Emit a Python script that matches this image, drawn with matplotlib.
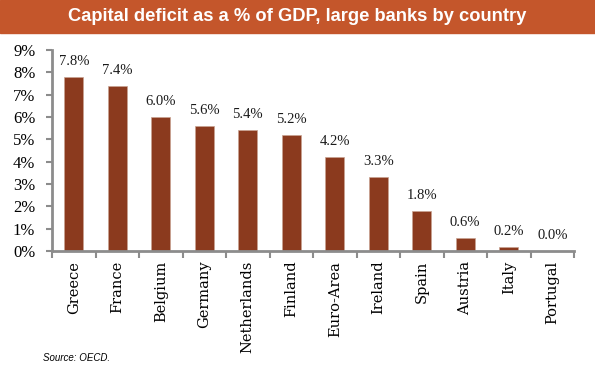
import numpy as np
import matplotlib as mpl
mpl.use('Agg')
import matplotlib.pyplot as plt
from matplotlib.ticker import FuncFormatter

countries = ['Greece', 'France', 'Belgium', 'Germany', 'Netherlands', 'Finland',
             'Euro-Area', 'Ireland', 'Spain', 'Austria', 'Italy', 'Portugal']
deficit = [7.8, 7.4, 6.0, 5.6, 5.4, 5.2, 4.2, 3.3, 1.8, 0.6, 0.2, 0.0]

bar_color = '#8B3A1E'
axis_gray = '#8C8C8C'
serif = ['Liberation Serif', 'DejaVu Serif']

fig = plt.figure(figsize=(5.95, 3.69), dpi=100)

# title banner
fig.patches.append(plt.Rectangle((0, 1 - 33 / 369), 1, 33 / 369, transform=fig.transFigure,
                                 color='#C4562B', zorder=0))
fig.text(0.5, 1 - 16.5 / 369, 'Capital deficit as a % of GDP, large banks by country',
         ha='center', va='center', color='white', fontsize=13.2, fontweight='bold',
         family=['Liberation Sans', 'DejaVu Sans'])

ax = fig.add_axes([52 / 595, 1 - 251 / 369, 522 / 595, 201 / 369])
x = np.arange(len(countries))
ax.bar(x, deficit, width=0.44, color=bar_color, edgecolor='#C9A391', linewidth=0.5)
for xi, v in zip(x, deficit):
    ax.text(xi, v + 0.4, f'{v:.1f}%', ha='center', va='bottom', fontsize=10.5,
            family=serif, color='#1a1a1a')

ax.set_xlim(-0.5, len(countries) - 0.5)
ax.set_ylim(0, 9)
ax.set_yticks(range(10))
ax.yaxis.set_major_formatter(FuncFormatter(lambda v, p: f'{int(v)}%'))
ax.set_xticks(np.arange(-0.5, len(countries), 1))
ax.set_xticklabels([])
ax.set_xticks(x, minor=True)
ax.set_xticklabels(countries, minor=True, rotation=90, family=['DejaVu Serif'], fontsize=10.5)
ax.tick_params(axis='x', which='major', length=5, color=axis_gray, width=1.5, direction='out')
ax.tick_params(axis='x', which='minor', length=0, pad=7)
ax.tick_params(axis='y', length=4, color=axis_gray, width=1.5, pad=8)
for lbl in ax.get_yticklabels():
    lbl.set_family(serif)
    lbl.set_fontsize(12)

for s in ['top', 'right']:
    ax.spines[s].set_visible(False)
for s in ['left', 'bottom']:
    ax.spines[s].set_color(axis_gray)
    ax.spines[s].set_linewidth(2)

fig.text(43 / 595, 1 - 358 / 369, 'Source: OECD.', fontsize=7, style='italic',
         family=['Liberation Sans', 'DejaVu Sans'], va='center')

fig.savefig('out.png', dpi=100)
